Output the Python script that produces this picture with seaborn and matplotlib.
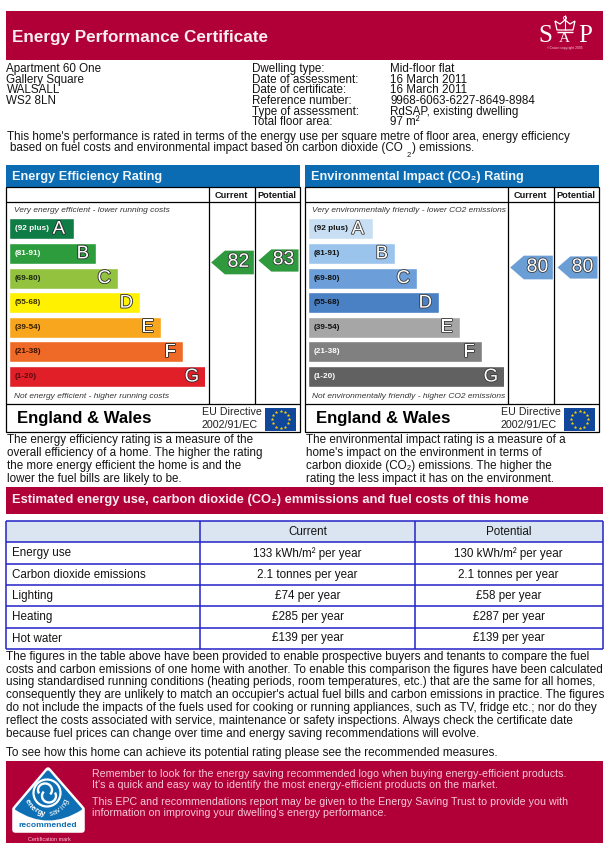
import numpy as np
import matplotlib
matplotlib.use('Agg')
import matplotlib.pyplot as plt
import matplotlib.patheffects as pe
from matplotlib.patches import Rectangle, Polygon, PathPatch, Circle, Arc
from matplotlib.path import Path
import seaborn as sns

sns.set_style('white')
plt.rcParams['font.family'] = ['Liberation Sans', 'DejaVu Sans']

W, H = 613, 851

# --------------
# data
bands = ['A', 'B', 'C', 'D', 'E', 'F', 'G']
band_ranges = ['(92 plus)', '(81-91)', '(69-80)', '(55-68)', '(39-54)', '(21-38)', '(1-20)']
band_lengths = [65, 87, 109, 131, 152, 174, 197]

energy_colors = ['#0f7c45', '#2c9c3c', '#93c33e', '#fff100', '#f8a61e', '#ef6a26', '#e11f28']
energy_label_colors = ['#ffffff', '#ffffff', '#1c2a10', '#3a3000', '#3a2000', '#3a1000', '#5a0a10']
env_colors = ['#c8dff3', '#9bc4ec', '#6c9fd9', '#4a80c4', '#a6a6a6', '#808080', '#616161']
env_label_colors = ['#111111', '#111111', '#111111', '#111111', '#111111', '#ffffff', '#ffffff']

energy_current, energy_potential = 82, 83
env_current, env_potential = 80, 80

address = ['Apartment 60 One', 'Gallery Square', 'WALSALL', 'WS2 8LN']
info_labels = ['Dwelling type:', 'Date of assessment:', 'Date of certificate:',
               'Reference number:', 'Type of assessment:', 'Total floor area:']
info_values = ['Mid-floor flat', '16 March 2011', '16 March 2011',
               '9968-6063-6227-8649-8984', 'RdSAP, existing dwelling', '97 m²']

table_rows = ['Energy use', 'Carbon dioxide emissions', 'Lighting', 'Heating', 'Hot water']
table_current = ['133 kWh/m² per year', '2.1 tonnes per year', '£74 per year', '£285 per year', '£139 per year']
table_potential = ['130 kWh/m² per year', '2.1 tonnes per year', '£58 per year', '£287 per year', '£139 per year']

energy_text = ['The energy efficiency rating is a measure of the',
               'overall efficiency of a home. The higher the rating',
               'the more energy efficient the home is and the',
               'lower the fuel bills are likely to be.']
env_text = ['The environmental impact rating is a measure of a',
            "home's impact on the environment in terms of",
            'carbon dioxide (CO₂) emissions. The higher the',
            'rating the less impact it has on the environment.']
notes = ['The figures in the table above have been provided to enable prospective buyers and tenants to compare the fuel',
         'costs and carbon emissions of one home with another. To enable this comparison the figures have been calculated',
         'using standardised running conditions (heating periods, room temperatures, etc.) that are the same for all homes,',
         "consequently they are unlikely to match an occupier's actual fuel bills and carbon emissions in practice. The figures",
         'do not include the impacts of the fuels used for cooking or running appliances, such as TV, fridge etc.; nor do they',
         'reflect the costs associated with service, maintenance or safety inspections. Always check the certificate date',
         'because fuel prices can change over time and energy saving recommendations will evolve.']

RED = '#b10038'
BLUE = '#0b6cb3'
INK = '#141414'
BODY = 8.42

fig = plt.figure(figsize=(W / 100, H / 100), dpi=100, facecolor='white')
bg = fig.add_axes([0, 0, 1, 1])
bg.set_xlim(0, W)
bg.set_ylim(H, 0)
bg.axis('off')


def px_axes(x0, y0, x1, y1):
    ax = fig.add_axes([x0 / W, 1 - y1 / H, (x1 - x0) / W, (y1 - y0) / H])
    ax.patch.set_alpha(0)
    return ax


def txt(x, y, s, size=BODY, color=INK, ha='left', **kw):
    return bg.text(x, y, s, fontsize=size, color=color, ha=ha, va='center', **kw)


def box(x0, y0, x1, y1, color):
    bg.add_patch(Rectangle((x0, y0), x1 - x0, y1 - y0, facecolor=color, edgecolor='none'))


def line(x0, y0, x1, y1, color='black', lw=0.9):
    bg.plot([x0, x1], [y0, y1], color=color, lw=lw, solid_capstyle='butt')


# --------------
# top banner and address block
box(6, 10.5, 603, 60, RED)
txt(12.5, 37.5, 'Energy Performance Certificate', size=12.35, color='#fbeef2', fontweight='bold')

txt(545.5, 36, 'S', size=18, color='white', ha='center', family='Liberation Serif')
txt(564, 39, 'A', size=11, color='white', ha='center', family='Liberation Serif')
txt(585.5, 36, 'P', size=18, color='white', ha='center', family='Liberation Serif')
txt(564.5, 48, '©Crown copyright 2005', size=2.4, color='#f3c8d6', ha='center')
crown = [(557, 30), (555, 21), (560, 24), (565, 20), (570, 24), (575, 21), (573, 30)]
bg.add_patch(Polygon(crown, closed=True, fill=False, edgecolor='white', lw=0.9))
line(565, 15, 565, 30, color='white', lw=0.8)
bg.add_patch(Circle((565, 18), 1.6, fill=False, edgecolor='white', lw=0.6))
line(557, 32, 573, 32, color='white', lw=1.0)

addr_y = [69, 80, 90, 101]
info_y = [69, 80, 90, 101, 112, 122]
for y, s in zip(addr_y, address):
    txt(6.5, y, s)
for y, a, b in zip(info_y, info_labels, info_values):
    txt(252.5, y, a)
    txt(390.5, y, b)

txt(7, 136.8, "This home's performance is rated in terms of the energy use per square metre of floor area, energy efficiency")
txt(10, 147.8, 'based on fuel costs and environmental impact based on carbon dioxide (CO')
txt(406.5, 155.5, '2', size=5.5)
txt(412, 147.8, ') emissions.')


# --------------
# rating panels
arrow_marker = Path([(-1, 0), (-0.36, 0.555), (1, 0.555), (1, -0.555), (-0.36, -0.555), (-1, 0)], closed=True)


def rating_panel(left, title, top_note, bottom_note, colors, label_colors, letter_edge,
                 current, potential, arrow_color, paragraph):
    right = left + 294
    col1, col2 = left + 202.5, left + 248.5
    box(left, 165.3, right, 187.3, BLUE)
    txt(left + 6.3, 176.8, title, size=9.15, color='#eef6fb', fontweight='bold')

    bg.add_patch(Rectangle((left, 187.3), 293.7, 245, fill=False, edgecolor='black', lw=0.9))
    line(left, 202.3, right, 202.3)
    line(left, 404.3, right, 404.3)
    line(col1, 187.3, col1, 404.3)
    line(col2, 187.3, col2, 404.3)
    txt(left + 225.5, 195.2, 'Current', size=6.6, ha='center', fontweight='bold')
    txt(left + 271, 195.2, 'Potential', size=6.6, ha='center', fontweight='bold')
    txt(left + 7.5, 210, top_note, size=6.05, color='#333333', style='italic')
    txt(left + 7.5, 396, bottom_note, size=6.05, color='#333333', style='italic')

    # the band bars
    ax = px_axes(left + 3, 216.5, left + 199, 388.8)
    sns.barplot(x=band_lengths, y=bands, hue=bands, palette=colors, width=0.853, saturation=1,
                legend=False, orient='h', ax=ax)
    ax.set_xlim(0, 196)
    ax.axis('off')
    for i, (band, rng, length) in enumerate(zip(bands, band_ranges, band_lengths)):
        ax.text(5.7, i, rng, fontsize=5.9, color=label_colors[i], fontweight='bold', va='center')
        pad = 9 if band == 'A' else 7
        t = ax.text(length - pad, i + 0.02, band, fontsize=13.4, color='white', ha='right', va='center')
        t.set_path_effects([pe.Stroke(linewidth=1.2, foreground=letter_edge), pe.Normal()])

    # current and potential arrows, placed on the rating scale
    rax = px_axes(col1 + 0.1, 205, col1 + 92.1, 403)
    rax.set_xlim(-0.5, 1.5)
    rax.set_ylim(26.4, 104.66)
    rax.axis('off')
    sns.scatterplot(x=[0], y=[current], marker=arrow_marker, s=944, color=arrow_color,
                    linewidth=0, clip_on=False, ax=rax)
    sns.scatterplot(x=[1], y=[potential], marker=arrow_marker, s=830, color=arrow_color,
                    linewidth=0, clip_on=False, ax=rax)
    for xpos, val in zip([0.15, 1.13], [current, potential]):
        t = rax.text(xpos, val, str(val), fontsize=14, color='white', ha='center', va='center')
        t.set_path_effects([pe.Stroke(linewidth=1.1, foreground='#333333'), pe.Normal()])

    # footer of the panel
    txt(left + 10.7, 418, 'England & Wales', size=12.1, color='black', fontweight='bold')
    txt(left + 195.6, 411.7, 'EU Directive', size=7.7, color='#222222')
    txt(left + 195.6, 425, '2002/91/EC', size=7.7, color='#222222')
    box(left + 259, 407.7, left + 290.3, 430.7, '#10479a')
    cx, cy = left + 274.6, 419.2
    angles = np.arange(12) * np.pi / 6
    bg.scatter(cx + 8.5 * np.cos(angles), cy + 8.5 * np.sin(angles), s=3, marker='*',
               color='#ffd400', linewidth=0.3, zorder=3)

    for y, s in zip([439.8, 453, 465.8, 478.8], paragraph):
        txt(left + 1, y, s)


rating_panel(6, 'Energy Efficiency Rating', 'Very energy efficient - lower running costs',
             'Not energy efficient - higher running costs', energy_colors, energy_label_colors, '#2a2a2a',
             energy_current, energy_potential, '#2f9a3d', energy_text)
rating_panel(305, 'Environmental Impact (CO₂) Rating', 'Very environmentally friendly - lower CO2 emissions',
             'Not environmentally friendly - higher CO2 emissions', env_colors, env_label_colors, '#3a3a3a',
             env_current, env_potential, '#6c9ed6', env_text)


# --------------
# estimated costs table
box(6, 486.7, 603, 514, RED)
txt(12.5, 500.2, 'Estimated energy use, carbon dioxide (CO₂) emmissions and fuel costs of this home',
    size=9.25, color='#fbeef2', fontweight='bold')

col_x = [6, 199.5, 414.5, 603]
row_y = [520.7, 542.3, 563.7, 585, 606, 627.7, 648.7]
TABLE_LINE = '#2323c8'
box(col_x[0], row_y[0], col_x[3], row_y[1], '#dbe5f1')
for y in row_y:
    line(col_x[0], y, col_x[3], y, color=TABLE_LINE, lw=1.1)
for x in col_x:
    line(x, row_y[0], x, row_y[-1], color=TABLE_LINE, lw=1.1)

mid1 = (col_x[1] + col_x[2]) / 2 + 0.5
mid2 = (col_x[2] + col_x[3]) / 2
txt(mid1, 532, 'Current', size=8.4, ha='center')
txt(mid2, 532, 'Potential', size=8.4, ha='center')
for i, (a, b, c) in enumerate(zip(table_rows, table_current, table_potential)):
    y = (row_y[i + 1] + row_y[i + 2]) / 2 + 0.3
    txt(12, y, a, size=8.4)
    txt(mid1, y, b, size=8.4, ha='center')
    txt(mid2, y, c, size=8.4, ha='center')

for y, s in zip([657.3, 669.6, 681.6, 694.6, 707.6, 720.6, 733.6], notes):
    txt(6.5, y, s, size=8.47)
txt(6.5, 752.6, 'To see how this home can achieve its potential rating please see the recommended measures.', size=8.5)


# --------------
# bottom banner and logo
box(6, 761.3, 603, 842.7, RED)
PINK = '#f7c9d6'
txt(92, 773.8, 'Remember to look for the energy saving recommended logo when buying energy-efficient products.', size=7.67, color=PINK)
txt(92, 785.2, "It's a quick and easy way to identify the most energy-efficient products on the market.", size=7.67, color=PINK)
txt(92, 802.2, 'This EPC and recommendations report may be given to the Energy Saving Trust to provide you with', size=7.67, color=PINK)
txt(92, 812.8, "information on improving your dwelling's energy performance.", size=7.67, color=PINK)

bg.add_patch(Polygon([(48, 770), (15, 809), (15, 830), (82, 830), (82, 809)], closed=True,
                     facecolor='white', edgecolor='white', lw=4, joinstyle='round'))
logo_path = Path([(48, 771), (16, 809), (48, 830), (81, 809), (48, 771)],
                 [Path.MOVETO, Path.LINETO, Path.CURVE3, Path.CURVE3, Path.LINETO])
bg.add_patch(PathPatch(logo_path, facecolor='#0e6fb4', edgecolor='#0e6fb4', lw=1.5, joinstyle='round'))
bg.add_patch(Circle((47, 793), 13.5, fill=False, edgecolor='white', lw=1.6))
bg.add_patch(Arc((45, 790), 14, 13, theta1=150, theta2=400, edgecolor='white', lw=1.7))
bg.add_patch(Arc((49, 796), 14, 13, theta1=-30, theta2=220, edgecolor='white', lw=1.7))

word = 'energy saving'
angles_deg = np.linspace(156, 24, len(word))
for ch, t in zip(word, angles_deg):
    r = np.deg2rad(t)
    bg.text(47 + 21.5 * np.cos(r), 793 + 21.5 * np.sin(r), ch, fontsize=5.6, color='white',
            rotation=90 - t, ha='center', va='center', rotation_mode='anchor',
            fontweight='bold' if t > 88 else 'normal')
txt(48, 825.5, 'recommended', size=6.1, color='#0e6fb4', ha='center', fontweight='bold')
txt(49, 839.5, 'Certification mark', size=4.0, color=PINK, ha='center')

fig.savefig('out.png', dpi=100)
